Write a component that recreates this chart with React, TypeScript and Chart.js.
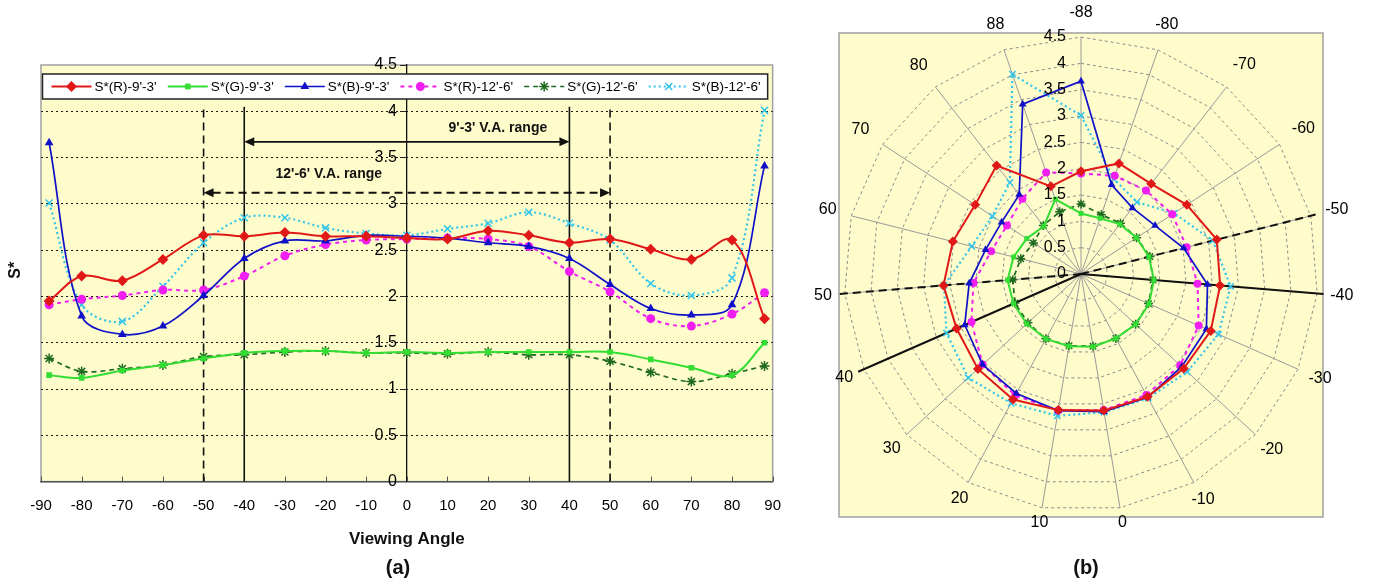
import React, { useEffect, useRef } from 'react';
import { Chart, registerables } from 'chart.js';

Chart.register(...registerables);

const FONT = 'Arial, "Liberation Sans", Helvetica, sans-serif';
Chart.defaults.font.family = FONT;
Chart.defaults.color = '#000';

// ---------------- data ----------------
const viewingAngles = [-88, -80, -70, -60, -50, -40, -30, -20, -10, 0, 10, 20, 30, 40, 50, 60, 70, 80, 88];

const sR93 = [1.95, 2.22, 2.17, 2.40, 2.66, 2.65, 2.69, 2.65, 2.65, 2.63, 2.62, 2.71, 2.66, 2.58, 2.62, 2.51, 2.40, 2.61, 1.76];
const sG93 = [1.15, 1.12, 1.20, 1.26, 1.33, 1.39, 1.41, 1.41, 1.39, 1.40, 1.39, 1.40, 1.40, 1.40, 1.40, 1.32, 1.23, 1.15, 1.50];
const sB93 = [3.66, 1.79, 1.59, 1.68, 2.01, 2.41, 2.60, 2.60, 2.66, 2.65, 2.63, 2.58, 2.54, 2.41, 2.13, 1.87, 1.80, 1.91, 3.41];
const sR126 = [1.91, 1.97, 2.01, 2.07, 2.07, 2.22, 2.44, 2.56, 2.61, 2.62, 2.63, 2.62, 2.54, 2.27, 2.05, 1.76, 1.68, 1.81, 2.04];
const sG126 = [1.33, 1.19, 1.22, 1.26, 1.35, 1.37, 1.40, 1.41, 1.39, 1.39, 1.38, 1.40, 1.37, 1.37, 1.30, 1.18, 1.08, 1.165, 1.25];
const sB126 = [3.01, 1.91, 1.73, 2.11, 2.58, 2.85, 2.85, 2.74, 2.68, 2.66, 2.73, 2.79, 2.91, 2.79, 2.61, 2.14, 2.01, 2.20, 4.01];

const seriesNames = ["S*(R)-9'-3'", "S*(G)-9'-3'", "S*(B)-9'-3'", "S*(R)-12'-6'", "S*(G)-12'-6'", "S*(B)-12'-6'"];
const seriesValues = [sR93, sG93, sB93, sR126, sG126, sB126];

const xMin = -90;
const xMax = 90;
const xStep = 10;
const yMin = 0;
const yMax = 4.5;
const yStep = 0.5;

const range93 = [-40, 40];
const range126 = [-50, 50];
const rangeLineTop = 4.05;
const range93ArrowY = 3.67;
const range126ArrowY = 3.12;
const range93Label = "9'-3' V.A. range";
const range126Label = "12'-6' V.A. range";
const range93LabelAt = [22.4, 3.82];
const range126LabelAt = [-19.2, 3.32];
const polarRangeLength = 4.62;

const xTitle = 'Viewing Angle';
const yTitle = 'S*';
const panelA = '(a)';
const panelB = '(b)';

// ---------------- styles ----------------
const PLOT_BG = '#fefccb';
const seriesStyles = [
  { color: '#e01818', dash: [] as number[], width: 2, point: 'rectRot', r: 5.5, stroke: false },
  { color: '#33dd33', dash: [] as number[], width: 2, point: 'rect', r: 4, stroke: false },
  { color: '#1010c8', dash: [] as number[], width: 1.7, point: 'triangle', r: 5, stroke: false },
  { color: '#f01ef0', dash: [4, 4], width: 2, point: 'circle', r: 4.5, stroke: false },
  { color: '#1f6a1f', dash: [5, 4], width: 1.7, point: 'star', r: 5, stroke: true },
  { color: '#33c4ea', dash: [2, 3], width: 2.2, point: 'crossRot', r: 5, stroke: true },
];

function drawMarker(ctx: CanvasRenderingContext2D, style: string, x: number, y: number, r: number, color: string) {
  ctx.save();
  ctx.setLineDash([]);
  ctx.fillStyle = color;
  ctx.strokeStyle = color;
  ctx.lineWidth = 1.5;
  ctx.beginPath();
  if (style === 'rectRot') {
    ctx.moveTo(x, y - r); ctx.lineTo(x + r, y); ctx.lineTo(x, y + r); ctx.lineTo(x - r, y); ctx.closePath(); ctx.fill();
  } else if (style === 'rect') {
    const s = r * Math.SQRT1_2; ctx.rect(x - s, y - s, 2 * s, 2 * s); ctx.fill();
  } else if (style === 'triangle') {
    ctx.moveTo(x, y - r); ctx.lineTo(x + r * 0.866, y + r / 2); ctx.lineTo(x - r * 0.866, y + r / 2); ctx.closePath(); ctx.fill();
  } else if (style === 'circle') {
    ctx.arc(x, y, r, 0, Math.PI * 2); ctx.fill();
  } else if (style === 'star') {
    for (let k = 0; k < 4; k++) {
      const a = (k * Math.PI) / 4;
      ctx.moveTo(x - Math.cos(a) * r, y - Math.sin(a) * r);
      ctx.lineTo(x + Math.cos(a) * r, y + Math.sin(a) * r);
    }
    ctx.stroke();
  } else {
    const d = r * Math.SQRT1_2;
    ctx.moveTo(x - d, y - d); ctx.lineTo(x + d, y + d);
    ctx.moveTo(x + d, y - d); ctx.lineTo(x - d, y + d);
    ctx.stroke();
  }
  ctx.restore();
}

function drawArrow(ctx: CanvasRenderingContext2D, x1: number, x2: number, y: number, dash: number[], width: number) {
  const head = 10;
  const hw = 4.5;
  ctx.save();
  ctx.strokeStyle = '#111';
  ctx.fillStyle = '#111';
  ctx.lineWidth = width;
  ctx.setLineDash(dash);
  ctx.beginPath();
  ctx.moveTo(x1 + head - 1, y);
  ctx.lineTo(x2 - head + 1, y);
  ctx.stroke();
  ctx.setLineDash([]);
  ctx.beginPath();
  ctx.moveTo(x1, y); ctx.lineTo(x1 + head, y - hw); ctx.lineTo(x1 + head, y + hw); ctx.closePath(); ctx.fill();
  ctx.beginPath();
  ctx.moveTo(x2, y); ctx.lineTo(x2 - head, y - hw); ctx.lineTo(x2 - head, y + hw); ctx.closePath(); ctx.fill();
  ctx.restore();
}

const leftDecor = {
  id: 'leftDecor',
  beforeDraw(chart: any) {
    const { ctx, chartArea: a } = chart;
    ctx.save();
    ctx.fillStyle = PLOT_BG;
    ctx.fillRect(a.left, a.top, a.right - a.left, a.bottom - a.top);
    ctx.strokeStyle = '#a0a0a0';
    ctx.lineWidth = 1.5;
    ctx.strokeRect(a.left, a.top, a.right - a.left, a.bottom - a.top);
    ctx.restore();
  },
  beforeDatasetsDraw(chart: any) {
    const { ctx, chartArea: a, scales } = chart;
    const x = scales.x;
    const y = scales.y;
    ctx.save();
    // inward x tick marks
    ctx.strokeStyle = '#555';
    ctx.lineWidth = 1;
    x.ticks.forEach((t: any) => {
      const px = Math.round(x.getPixelForValue(t.value)) + 0.5;
      ctx.beginPath();
      ctx.moveTo(px, a.bottom);
      ctx.lineTo(px, a.bottom - 5);
      ctx.stroke();
    });
    const yb = y.getPixelForValue(0);
    const yt = y.getPixelForValue(rangeLineTop);
    ctx.strokeStyle = '#111';
    ctx.lineWidth = 1.6;
    range93.forEach((v) => {
      const px = x.getPixelForValue(v);
      ctx.beginPath(); ctx.moveTo(px, yb); ctx.lineTo(px, yt); ctx.stroke();
    });
    ctx.setLineDash([8, 5]);
    range126.forEach((v) => {
      const px = x.getPixelForValue(v);
      ctx.beginPath(); ctx.moveTo(px, yb); ctx.lineTo(px, yt); ctx.stroke();
    });
    ctx.setLineDash([]);
    drawArrow(ctx, x.getPixelForValue(range93[0]), x.getPixelForValue(range93[1]), y.getPixelForValue(range93ArrowY), [], 1.6);
    drawArrow(ctx, x.getPixelForValue(range126[0]), x.getPixelForValue(range126[1]), y.getPixelForValue(range126ArrowY), [8, 5], 2);
    ctx.fillStyle = '#111';
    ctx.font = `bold 14px ${FONT}`;
    ctx.textAlign = 'center';
    ctx.textBaseline = 'middle';
    ctx.fillText(range93Label, x.getPixelForValue(range93LabelAt[0]), y.getPixelForValue(range93LabelAt[1]));
    ctx.fillText(range126Label, x.getPixelForValue(range126LabelAt[0]), y.getPixelForValue(range126LabelAt[1]));
    ctx.restore();
  },
  afterDatasetsDraw(chart: any) {
    const { ctx, chartArea: a } = chart;
    ctx.save();
    const bl = a.left + 1.5;
    const br = a.right - 5;
    const bt = a.top + 9;
    const bb = a.top + 34;
    ctx.fillStyle = '#fff';
    ctx.fillRect(bl, bt, br - bl, bb - bt);
    ctx.strokeStyle = '#222';
    ctx.lineWidth = 1.5;
    ctx.strokeRect(bl, bt, br - bl, bb - bt);
    ctx.font = `13.5px ${FONT}`;
    ctx.textAlign = 'left';
    ctx.textBaseline = 'middle';
    const sampleW = 40;
    const gapText = 3;
    const widths = seriesNames.map((n) => sampleW + gapText + ctx.measureText(n).width);
    const total = widths.reduce((s, w) => s + w, 0);
    const gap = (br - bl - 16 - total) / (seriesNames.length - 1);
    let cx = bl + 9;
    const cy = (bt + bb) / 2;
    seriesNames.forEach((n, i) => {
      const st = seriesStyles[i];
      ctx.save();
      ctx.strokeStyle = st.color;
      ctx.lineWidth = st.width;
      ctx.setLineDash(st.dash);
      ctx.beginPath();
      ctx.moveTo(cx, cy);
      ctx.lineTo(cx + sampleW, cy);
      ctx.stroke();
      ctx.restore();
      drawMarker(ctx, st.point, cx + sampleW / 2, cy, st.r, st.color);
      ctx.fillStyle = '#000';
      ctx.fillText(n, cx + sampleW + gapText, cy + 0.5);
      cx += widths[i] + gap;
    });
    ctx.restore();
  },
  afterDraw(chart: any) {
    const { ctx, chartArea: a } = chart;
    ctx.save();
    ctx.translate(16, (a.top + a.bottom) / 2 - 3);
    ctx.rotate(-Math.PI / 2);
    ctx.font = `bold 16px ${FONT}`;
    ctx.fillStyle = '#111';
    ctx.textAlign = 'center';
    ctx.textBaseline = 'middle';
    ctx.fillText(yTitle, 0, 0);
    ctx.restore();
  },
};

const radarDecor = {
  id: 'radarDecor',
  beforeDraw(chart: any) {
    const { ctx } = chart;
    const s = chart.scales.r;
    const R = s.drawingArea;
    ctx.save();
    ctx.fillStyle = PLOT_BG;
    ctx.fillRect(s.xCenter - R - 5, s.yCenter - R - 4, 2 * R + 10, 2 * R + 10);
    ctx.strokeStyle = '#a0a0a0';
    ctx.lineWidth = 1.5;
    ctx.strokeRect(s.xCenter - R - 5, s.yCenter - R - 4, 2 * R + 10, 2 * R + 10);
    ctx.restore();
  },
  beforeDatasetsDraw(chart: any) {
    const { ctx } = chart;
    const s = chart.scales.r;
    ctx.save();
    ctx.strokeStyle = '#111';
    ctx.lineWidth = 2;
    const groups: [number[], number[]][] = [[range93, []], [range126, [8, 5]]];
    groups.forEach(([rg, dash]) => {
      ctx.setLineDash(dash);
      rg.forEach((v) => {
        const idx = viewingAngles.indexOf(v);
        const p = s.getPointPositionForValue(idx, polarRangeLength);
        ctx.beginPath();
        ctx.moveTo(s.xCenter, s.yCenter);
        ctx.lineTo(p.x, p.y);
        ctx.stroke();
      });
    });
    ctx.restore();
  },
  afterDraw(chart: any) {
    const { ctx } = chart;
    const s = chart.scales.r;
    const R = s.drawingArea;
    ctx.save();
    ctx.fillStyle = '#000';
    ctx.font = `16px ${FONT}`;
    ctx.textAlign = 'right';
    ctx.textBaseline = 'middle';
    s.ticks.forEach((t: any) => {
      const d = s.getDistanceFromCenterForValue(t.value);
      ctx.fillText(String(t.value), s.xCenter - 15, s.yCenter - d);
    });
    ctx.textAlign = 'center';
    viewingAngles.forEach((v, i) => {
      const label = String(v);
      const ang = s.getIndexAngle(i);
      const sn = Math.sin(ang);
      const cs = Math.cos(ang);
      const w = ctx.measureText(label).width;
      const ext = Math.abs(sn) * w / 2 + Math.abs(cs) * 6;
      const d = R + 13 + 5 * cs + ext;
      ctx.fillText(label, s.xCenter + sn * d, s.yCenter - cs * d);
    });
    ctx.restore();
  },
};

export default function App() {
  const leftRef = useRef<HTMLCanvasElement>(null);
  const rightRef = useRef<HTMLCanvasElement>(null);

  useEffect(() => {
    const lineSets = seriesValues.map((vals, i) => {
      const st = seriesStyles[i];
      return {
        label: seriesNames[i],
        data: viewingAngles.map((a, k) => ({ x: a, y: vals[k] })),
        borderColor: st.color,
        backgroundColor: st.color,
        borderWidth: st.width,
        borderDash: st.dash,
        pointStyle: st.point,
        pointRadius: st.r,
        pointBorderWidth: st.stroke ? 1.5 : 0,
        pointBorderColor: st.color,
        pointBackgroundColor: st.color,
        tension: 0.35,
        fill: false,
      };
    });

    const left = new Chart(leftRef.current as HTMLCanvasElement, {
      type: 'line',
      data: { datasets: lineSets as any },
      options: {
        animation: false,
        responsive: true,
        maintainAspectRatio: false,
        layout: { padding: { left: 41, right: 0, top: 65, bottom: 34 } },
        plugins: { legend: { display: false }, tooltip: { enabled: false } },
        scales: {
          x: {
            type: 'linear',
            position: 'bottom',
            min: xMin,
            max: xMax,
            ticks: { stepSize: xStep, autoSkip: false, maxRotation: 0, padding: 15, font: { size: 15 }, color: '#000' },
            grid: { drawOnChartArea: false, drawTicks: false },
            border: { display: true, color: '#555', width: 1.5 },
            title: { display: true, text: xTitle, font: { size: 17, weight: 'bold' }, color: '#111', padding: { top: 0, bottom: 0 } },
          },
          y: {
            type: 'linear',
            position: 'center',
            min: yMin,
            max: yMax,
            ticks: { stepSize: yStep, padding: 4, font: { size: 16 }, color: '#000', callback: (v: any) => String(v) },
            grid: {
              color: (c: any) => (c.tick && (c.tick.value === yMin || c.tick.value === yMax) ? 'rgba(0,0,0,0)' : '#1a1a1a'),
              lineWidth: 1,
              tickLength: 6,
              tickColor: '#222',
              tickBorderDash: [],
            },
            border: { display: true, color: '#111', width: 1.3, dash: [2, 3] },
          },
        },
      } as any,
      plugins: [leftDecor],
    });

    const radarSets = seriesValues.map((vals, i) => {
      const st = seriesStyles[i];
      return {
        label: seriesNames[i],
        data: vals,
        borderColor: st.color,
        backgroundColor: st.color,
        borderWidth: st.width,
        borderDash: st.dash,
        pointStyle: st.point,
        pointRadius: st.r - 0.5,
        pointBorderWidth: st.stroke ? 1.5 : 0,
        pointBorderColor: st.color,
        pointBackgroundColor: st.color,
        fill: false,
        tension: 0,
      };
    });

    const right = new Chart(rightRef.current as HTMLCanvasElement, {
      type: 'radar',
      data: { labels: viewingAngles.map(String), datasets: radarSets as any },
      options: {
        animation: false,
        responsive: true,
        maintainAspectRatio: false,
        layout: { padding: { left: 54, right: 57, top: 37, bottom: 73 } },
        plugins: { legend: { display: false }, tooltip: { enabled: false } },
        scales: {
          r: {
            min: yMin,
            max: yMax,
            ticks: { display: false, stepSize: yStep },
            pointLabels: { display: false },
            grid: { color: '#8c8c8c', lineWidth: 1 },
            border: { dash: [3, 3] },
            angleLines: { color: '#9a9a9a', lineWidth: 1 },
          },
        },
      } as any,
      plugins: [radarDecor],
    });

    return () => {
      left.destroy();
      right.destroy();
    };
  }, []);

  return (
    <div style={{ position: 'absolute', left: 0, top: 0, width: 1375, height: 584, background: '#fff', overflow: 'hidden' }}>
      <div style={{ position: 'absolute', left: 0, top: 0, width: 796, height: 584 }}>
        <canvas ref={leftRef} />
      </div>
      <div style={{ position: 'absolute', left: 790, top: 0, width: 585, height: 584 }}>
        <canvas ref={rightRef} />
      </div>
      <div style={{ position: 'absolute', left: 398, top: 567, transform: 'translate(-50%, -50%)', font: `bold 20px ${FONT}`, color: '#111' }}>{panelA}</div>
      <div style={{ position: 'absolute', left: 1086, top: 567, transform: 'translate(-50%, -50%)', font: `bold 20px ${FONT}`, color: '#111' }}>{panelB}</div>
    </div>
  );
}
